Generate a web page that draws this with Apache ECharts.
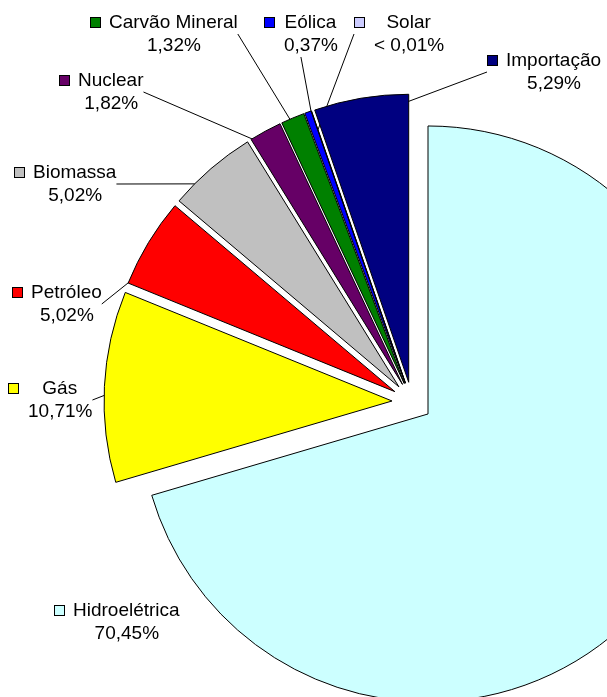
<!DOCTYPE html>
<html>
<head>
<meta charset="utf-8">
<script src="https://cdn.jsdelivr.net/npm/echarts@6/dist/echarts.min.js"></script>
<style>
  html, body { margin: 0; padding: 0; background: #fff; }
  #chart { width: 607px; height: 697px; }
</style>
</head>
<body>
<div id="chart"></div>
<script>
const sources = ['Hidroelétrica', 'Gás', 'Petróleo', 'Biomassa', 'Nuclear', 'Carvão Mineral', 'Eólica', 'Solar', 'Importação'];
const shares = [70.45, 10.71, 5.02, 5.02, 1.82, 1.32, 0.37, 0.01, 5.29];
const shareLabels = ['70,45%', '10,71%', '5,02%', '5,02%', '1,82%', '1,32%', '0,37%', '< 0,01%', '5,29%'];
const colors = ['#CCFFFF', '#FFFF00', '#FF0000', '#C0C0C0', '#660066', '#008000', '#0000FF', '#CCCCFF', '#000080'];

// where each label block sits (left edge of the key square, top of first line)
const labelSpots = [[55, 599], [9, 377], [13, 281], [15, 161], [60, 69], [91, 11], [265, 11], [355, 11], [488, 49]];

const rich = {
  g: { width: 9, align: 'left' },
  s: { width: 19, align: 'left' },
  n: { fontSize: 19, lineHeight: 23, align: 'center', color: '#000', fontFamily: 'Arial, "Liberation Sans", sans-serif' }
};
colors.forEach((c, i) => {
  rich['m' + i] = { width: 9, height: 9, backgroundColor: c, borderColor: '#000', borderWidth: 1, align: 'left' };
});

const pieBase = {
  type: 'pie',
  center: [412, 402],
  radius: 288,
  startAngle: 90,
  clockwise: true,
  avoidLabelOverlap: false,
  emphasis: { disabled: true }
};

const chart = echarts.init(document.getElementById('chart'));
chart.setOption({
  backgroundColor: '#fff',
  animation: false,
  series: [
    // labels + leader lines, drawn under the exploded slices
    Object.assign({}, pieBase, {
      z: 1,
      silent: true,
      itemStyle: { color: 'transparent', borderWidth: 0 },
      label: {
        show: true,
        position: 'outside',
        lineHeight: 23,
        formatter: p => `{m${p.dataIndex}|}{g|}{n|${p.name}}\n{s|}{n|${shareLabels[p.dataIndex]}}`,
        rich: rich
      },
      labelLine: { show: true, length: 10, length2: 0, lineStyle: { color: '#000', width: 1 } },
      labelLayout: params => {
        const p = labelSpots[params.dataIndex];
        return { x: p[0], y: p[1], align: 'left', verticalAlign: 'top' };
      },
      data: sources.map((name, i) => ({
        name,
        value: shares[i],
        labelLine: { show: i !== 0 }
      }))
    }),
    // exploded slices
    Object.assign({}, pieBase, {
      z: 2,
      selectedMode: 'multiple',
      selectedOffset: 20,
      itemStyle: { borderColor: '#000', borderWidth: 1 },
      select: { itemStyle: { borderColor: '#000', borderWidth: 1 } },
      label: { show: false },
      labelLine: { show: false },
      data: sources.map((name, i) => ({
        name,
        value: shares[i],
        selected: true,
        itemStyle: { color: colors[i] }
      }))
    })
  ]
});
</script>
</body>
</html>
